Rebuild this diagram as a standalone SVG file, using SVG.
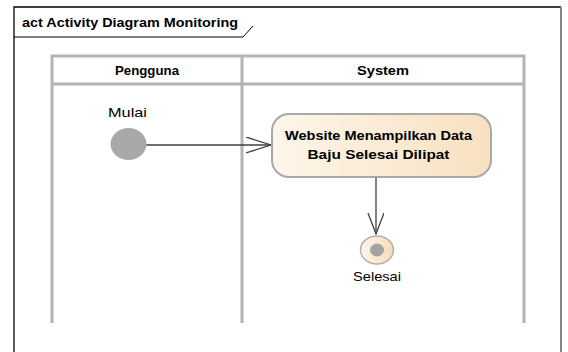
<svg xmlns="http://www.w3.org/2000/svg" width="568" height="352" viewBox="0 0 568 352">
<defs>
<linearGradient id="actGrad" x1="0" y1="0" x2="1" y2="0">
<stop offset="0" stop-color="#fdf6ea"/>
<stop offset="1" stop-color="#f8e0c0"/>
</linearGradient>
<linearGradient id="endGrad" x1="0" y1="0" x2="1" y2="0">
<stop offset="0" stop-color="#fdf6ea"/>
<stop offset="1" stop-color="#f6dcb8"/>
</linearGradient>
<marker id="openArrow" markerWidth="30" markerHeight="20" refX="25" refY="8" orient="auto" markerUnits="userSpaceOnUse">
<path d="M0,0 L25,8 L0,16" fill="none" stroke="#404040" stroke-width="1.3"/>
</marker>
<marker id="openArrowV" markerWidth="30" markerHeight="20" refX="21" refY="8" orient="auto" markerUnits="userSpaceOnUse">
<path d="M0,0 L21,8 L0,16" fill="none" stroke="#404040" stroke-width="1.3"/>
</marker>
</defs>
<style>
text{font-family:"Liberation Sans","DejaVu Sans",sans-serif;fill:#000}
.title{font-size:13px;font-weight:bold}
.lanehdr{font-size:13px;font-weight:bold;text-anchor:middle}
.lbl{font-size:13px;text-anchor:middle}
.act{font-size:13.5px;font-weight:bold;text-anchor:middle}
.lane{stroke:#b4b4b4;stroke-width:3;fill:none}
.conn{stroke:#404040;stroke-width:1.3;fill:none}
</style>
<rect width="568" height="352" fill="#ffffff"/>
<g id="frame">
<path d="M14,360 L14,7 L561,7" fill="none" stroke="#000" stroke-width="1.3"/>
<path d="M561,7 L561,360" fill="none" stroke="#888" stroke-width="2"/>
<path d="M14,37 L243,37 L253,26" fill="none" stroke="#000" stroke-width="1"/>
<text class="title" x="22" y="27" textLength="216" lengthAdjust="spacingAndGlyphs">act Activity Diagram Monitoring</text>
</g>
<g id="swimlanes">
<path class="lane" d="M52,323 L52,56 L524,56 L524,323"/>
<path class="lane" d="M52,84 L524,84"/>
<path class="lane" d="M242,56 L242,323"/>
<text class="lanehdr" x="147" y="75" textLength="64" lengthAdjust="spacingAndGlyphs">Pengguna</text>
<text class="lanehdr" x="383" y="75" textLength="52" lengthAdjust="spacingAndGlyphs">System</text>
</g>
<g id="connectors">
<path class="conn" d="M146,145 L271,145" marker-end="url(#openArrow)"/>
<path class="conn" d="M376,177 L376,234" marker-end="url(#openArrowV)"/>
</g>
<g id="start">
<ellipse cx="128.5" cy="144" rx="18" ry="16" fill="#a8a8a8"/>
<text class="lbl" x="127.5" y="117" textLength="39" lengthAdjust="spacingAndGlyphs">Mulai</text>
</g>
<g id="action">
<rect x="272" y="114" width="219" height="63" rx="17" ry="17" fill="url(#actGrad)" stroke="#a8a8a8" stroke-width="2"/>
<text class="act" x="378.5" y="140" textLength="187" lengthAdjust="spacingAndGlyphs">Website Menampilkan Data</text>
<text class="act" x="378.5" y="159" textLength="142" lengthAdjust="spacingAndGlyphs">Baju Selesai Dilipat</text>
</g>
<g id="end">
<ellipse cx="377" cy="250" rx="16.5" ry="14" fill="url(#endGrad)" stroke="#b0b0b0" stroke-width="1.5"/>
<ellipse cx="377" cy="250" rx="7" ry="6.5" fill="#a4a4a4"/>
<text class="lbl" x="377" y="281" textLength="48" lengthAdjust="spacingAndGlyphs">Selesai</text>
</g>
</svg>
